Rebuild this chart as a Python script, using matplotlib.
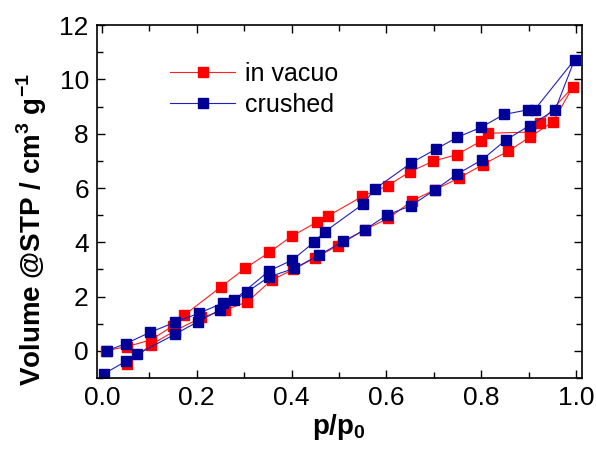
import matplotlib
matplotlib.use("Agg")
import matplotlib.pyplot as plt
from matplotlib.ticker import MultipleLocator

plt.rcParams["font.family"] = ["Liberation Sans", "DejaVu Sans"]
plt.rcParams["mathtext.fontset"] = "custom"
plt.rcParams["mathtext.rm"] = "Liberation Sans"
plt.rcParams["mathtext.bf"] = "Liberation Sans:bold"

# in vacuo: adsorption then desorption branch
vac_p = [0.053, 0.103, 0.155, 0.210, 0.259, 0.307, 0.358, 0.404, 0.449, 0.497,
         0.555, 0.604, 0.655, 0.703, 0.753, 0.803, 0.856, 0.902, 0.952, 0.993,
         0.924, 0.902, 0.815, 0.799, 0.748, 0.699, 0.650, 0.603, 0.549, 0.476,
         0.453, 0.400, 0.353, 0.302, 0.252, 0.174, 0.150, 0.103, 0.053, 0.008]
vac_v = [-0.49, 0.22, 0.75, 1.23, 1.50, 1.81, 2.61, 3.00, 3.42, 3.87,
         4.47, 4.88, 5.54, 5.94, 6.37, 6.86, 7.35, 7.87, 8.45, 9.72,
         8.39, 8.06, 8.02, 7.72, 7.23, 6.99, 6.60, 6.09, 5.69, 4.96,
         4.74, 4.22, 3.63, 3.04, 2.37, 1.32, 0.92, 0.40, 0.16, 0.00]

# crushed: adsorption then desorption branch
cr_p = [0.005, 0.050, 0.075, 0.154, 0.203, 0.250, 0.307, 0.353, 0.406, 0.458,
        0.509, 0.555, 0.602, 0.652, 0.703, 0.750, 0.801, 0.852, 0.902, 0.956,
        0.997, 0.913, 0.898, 0.848, 0.800, 0.750, 0.705, 0.653, 0.576, 0.551,
        0.470, 0.447, 0.402, 0.353, 0.279, 0.255, 0.205, 0.154, 0.101, 0.051,
        0.010]
cr_v = [-0.84, -0.39, -0.12, 0.61, 1.08, 1.52, 2.18, 2.73, 3.04, 3.53,
        4.03, 4.47, 5.01, 5.35, 5.94, 6.52, 7.03, 7.77, 8.30, 8.88,
        10.73, 8.89, 8.88, 8.71, 8.24, 7.87, 7.44, 6.93, 5.97, 5.41,
        4.39, 4.00, 3.35, 2.95, 1.88, 1.76, 1.39, 1.05, 0.68, 0.27,
        0.00]

fig = plt.figure(figsize=(5.96, 4.5), dpi=100)
ax = fig.add_axes([0.163, 0.16, 0.813, 0.784])

ax.plot(vac_p, vac_v, "-s", color="#ff2020", lw=0.8, ms=7.5,
        mfc="#ff0000", mec="#ff0000", label="in vacuo")
ax.plot(cr_p, cr_v, "-s", color="#2020c0", lw=0.8, ms=7.5,
        mfc="#000099", mec="#000099", label="crushed")

ax.set_xlim(-0.01, 1.012)
ax.set_ylim(-1, 12)
ax.xaxis.set_major_locator(MultipleLocator(0.2))
ax.xaxis.set_minor_locator(MultipleLocator(0.1))
ax.yaxis.set_major_locator(MultipleLocator(2))
ax.yaxis.set_minor_locator(MultipleLocator(1))
ax.xaxis.set_major_formatter(plt.FuncFormatter(lambda v, _: f"{v:.1f}"))
ax.tick_params(which="both", direction="in", top=True, right=True,
               labelsize=19, width=1)
ax.tick_params(which="major", length=6, pad=6)
ax.tick_params(which="minor", length=4)
for s in ax.spines.values():
    s.set_linewidth(1.2)

ax.set_xlabel(r"$\mathbf{p/p_0}$", fontsize=20, labelpad=1)
ax.set_ylabel(r"Volume @STP / cm$^\mathbf{3}$ g$^\mathbf{-1}$",
              fontsize=20, fontweight="bold")
ax.yaxis.set_label_coords(-0.1, 0.42)

ax.legend(loc="upper left", bbox_to_anchor=(0.13, 0.925), frameon=False,
          fontsize=18, handlelength=2.6, handletextpad=0.4,
          labelspacing=0.28, numpoints=1, borderaxespad=0)

fig.savefig("out.png", dpi=100)
